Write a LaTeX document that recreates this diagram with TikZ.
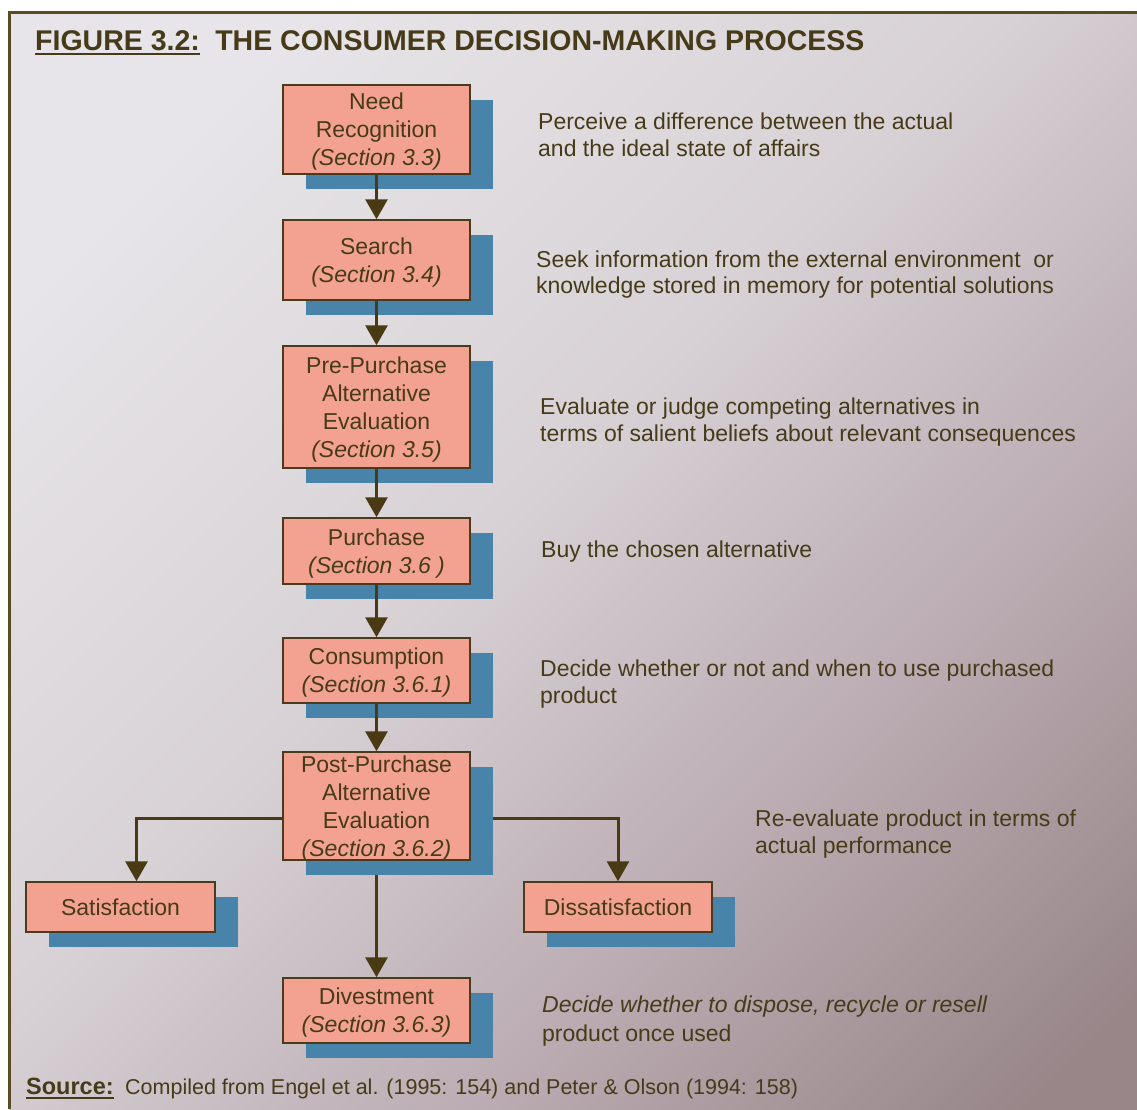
\documentclass[tikz,border=0pt]{standalone}
\usepackage{fontspec}
\setmainfont{Liberation Sans}
\usetikzlibrary{arrows.meta,shadows}

\definecolor{paperA}{HTML}{E7E5E9}
\definecolor{paperB}{HTML}{D8D2D6}
\definecolor{paperC}{HTML}{BBADB3}
\definecolor{paperD}{HTML}{988689}
\definecolor{framec}{HTML}{5A4C22}
\definecolor{boxfill}{HTML}{F3A291}
\definecolor{boxline}{HTML}{4B3B1E}
\definecolor{shadowblue}{HTML}{4884AA}
\definecolor{ink}{HTML}{463A18}
\definecolor{arrowc}{HTML}{4A3A14}

% diagonal paper tone: light at the upper left, mauve towards the lower right
\pgfdeclarehorizontalshading{paper}{100bp}{color(0bp)=(paperA); color(24bp)=(paperA); color(46bp)=(paperB); color(64bp)=(paperC); color(82bp)=(paperD); color(100bp)=(paperD)}

\pgfdeclarelayer{backdrop}
\pgfdeclarelayer{wires}
\pgfsetlayers{backdrop,wires,main}

\tikzset{
  stepbox/.style={draw=boxline, line width=1.5pt, fill=boxfill, text=ink,
    align=center, inner sep=0pt, minimum width=187pt, text depth=0pt,
    font=\fontsize{23}{28}\selectfont,
    general shadow={fill=shadowblue, shadow xshift=23pt, shadow yshift=-15pt}},
  flow/.style={draw=arrowc, line width=3pt, -{Triangle[width=22pt,length=20pt]}},
  note/.style={anchor=base west, inner sep=0pt, text=ink,
    font=\fontsize{23}{28}\selectfont},
}

\begin{document}
\begin{tikzpicture}[x=1pt,y=-1pt]
\useasboundingbox (0,0) rectangle (1137,1109);

\begin{pgfonlayer}{backdrop}
  \fill[white] (0,0) rectangle (1137,1109);
  \shade[shading=paper, shading angle=-45] (9,12) rectangle (1137,1109);
  \draw[framec, line width=3pt] (1137,12) -- (9,12) -- (9,1109);
\end{pgfonlayer}

% title
\node[anchor=base west, inner sep=0pt, text=ink,
      font=\fontsize{28.5}{32}\selectfont\bfseries] (figlbl) at (35,50) {FIGURE 3.2:};
\draw[ink, line width=2.2pt] ([yshift=-4pt]figlbl.base west) -- ([yshift=-4pt]figlbl.base east);
\node[anchor=base west, inner sep=0pt, text=ink,
      font=\fontsize{28.5}{32}\selectfont\bfseries] (ttl) at ([xshift=15pt]figlbl.base east)
      {THE CONSUMER DECISION-MAKING PROCESS};

% process steps
\node[stepbox, minimum height=89pt]  (need)   at (376.5,129.5) {Need\\Recognition\\\textit{(Section 3.3)}};
\node[stepbox, minimum height=80pt]  (search) at (376.5,260)   {Search\\\textit{(Section 3.4)}};
\node[stepbox, minimum height=122pt] (pre)    at (376.5,407)   {Pre-Purchase\\Alternative\\Evaluation\\\textit{(Section 3.5)}};
\node[stepbox, minimum height=66pt]  (purch)  at (376.5,551)   {Purchase\\\textit{(Section 3.6 )}};
\node[stepbox, minimum height=65pt]  (cons)   at (376.5,670.5) {Consumption\\\textit{(Section 3.6.1)}};
\node[stepbox, minimum height=108pt] (post)   at (376.5,806)   {Post-Purchase\\Alternative\\Evaluation\\\textit{(Section 3.6.2)}};
\node[stepbox, minimum height=50pt, minimum width=189pt] (sat) at (120.5,907) {Satisfaction};
\node[stepbox, minimum height=50pt, minimum width=188pt] (dis) at (618,907)   {Dissatisfaction};
\node[stepbox, minimum height=65pt]  (div)    at (376.5,1010.5) {Divestment\\\textit{(Section 3.6.3)}};

% main sequence
\draw[flow] (need)   -- (search);
\draw[flow] (search) -- (pre);
\draw[flow] (pre)    -- (purch);
\draw[flow] (purch)  -- (cons);
\draw[flow] (cons)   -- (post);

% branches leaving the post-purchase step, partly hidden by its shadow
\begin{pgfonlayer}{wires}
  \draw[flow] ([yshift=-12pt]post.west) -| ([xshift=16pt]sat.north);
  \draw[flow] ([yshift=-12pt]post.east) -| (dis.north);
  \draw[flow] (post) -- (div);
\end{pgfonlayer}

% descriptions
\node[note] (d1a) at (538,129) {Perceive a difference between the actual};
\node[note] (d1b) at (538,156) {and the ideal state of affairs};
\node[note] (d2a) at (536,267) {Seek information from the external environment \ or};
\node[note] (d2b) at (536,293) {knowledge stored in memory for potential solutions};
\node[note] (d3a) at (540,414) {Evaluate or judge competing alternatives in};
\node[note] (d3b) at (540,441) {terms of salient beliefs about relevant consequences};
\node[note] (d4)  at (541,557) {Buy the chosen alternative};
\node[note] (d5a) at (540,676) {Decide whether or not and when to use purchased};
\node[note] (d5b) at (540,703) {product};
\node[note] (d6a) at (755,826) {Re-evaluate product in terms of};
\node[note] (d6b) at (755,853) {actual performance};
\node[note] (d7a) at (542,1012) {\itshape Decide whether to dispose, recycle or resell};
\node[note] (d7b) at (542,1041) {product once used};

% source line
\node[anchor=base west, inner sep=0pt, text=ink,
      font=\fontsize{23.5}{28}\selectfont\bfseries] (srclbl) at (26,1094) {Source:};
\draw[ink, line width=2pt] ([yshift=-4pt]srclbl.base west) -- ([yshift=-4pt]srclbl.base east);
\node[anchor=base west, inner sep=0pt, text=ink,
      font=\fontsize{21.5}{26}\selectfont] (src) at (125,1094)
      {Compiled from Engel et al. (1995: 154) and Peter \& Olson (1994: 158)};
\end{tikzpicture}
\end{document}
